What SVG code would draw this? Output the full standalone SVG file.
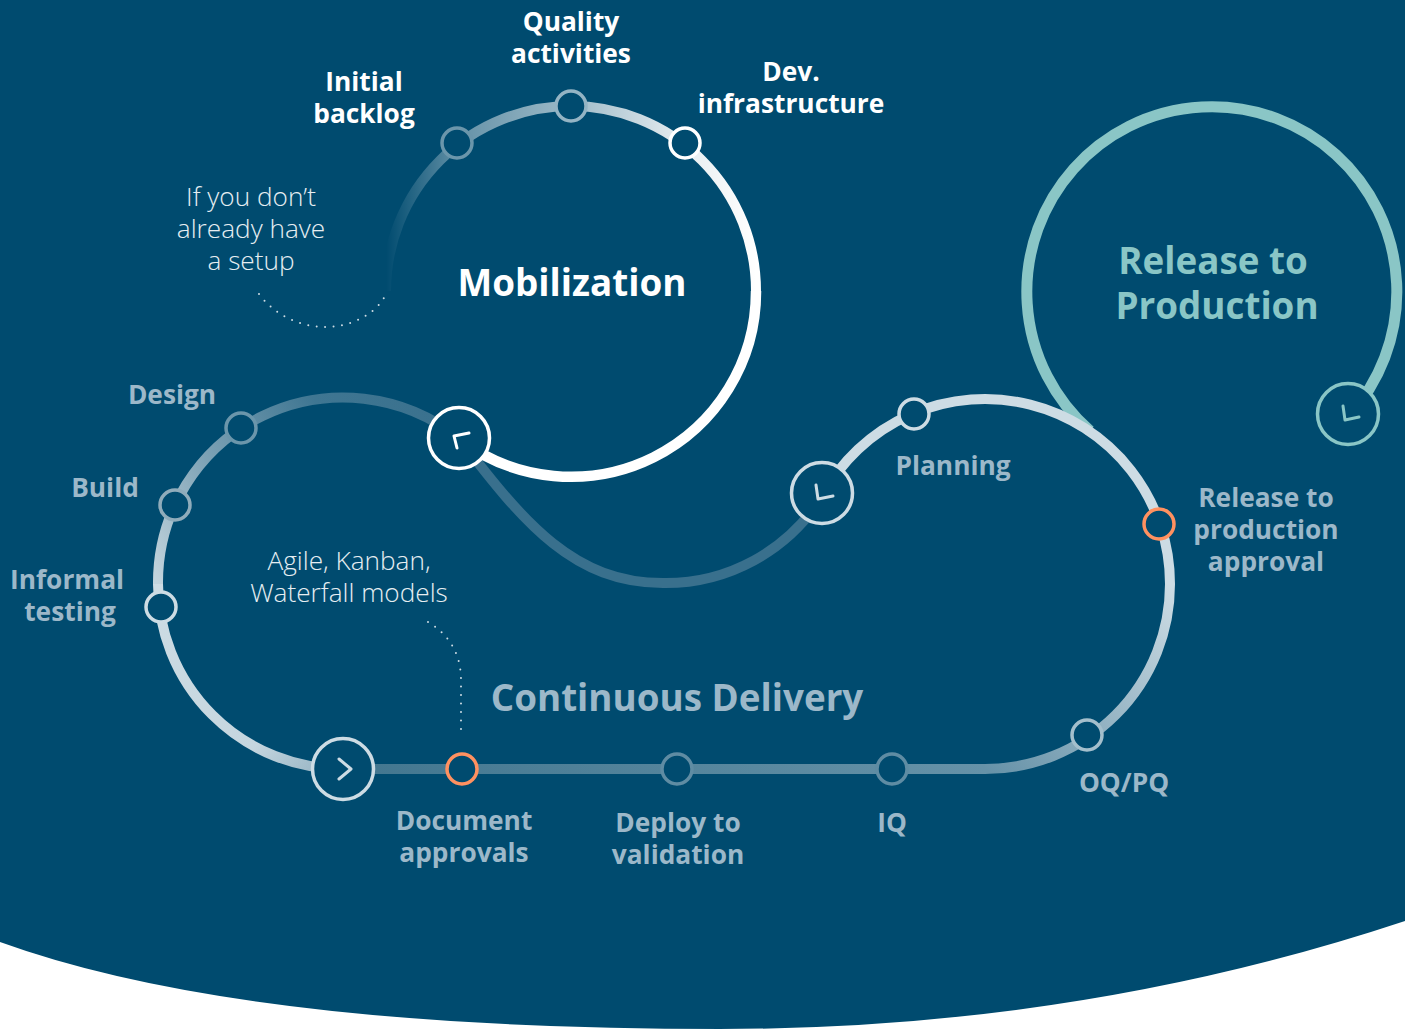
<svg xmlns="http://www.w3.org/2000/svg" width="1405" height="1029" viewBox="0 0 1405 1029">
<defs>
<linearGradient id="gMob" gradientUnits="userSpaceOnUse" x1="386" y1="291" x2="756" y2="291">
<stop offset="0" stop-color="#fff" stop-opacity="0"/>
<stop offset="0.2" stop-color="#fff" stop-opacity="0.4"/>
<stop offset="0.5" stop-color="#fff" stop-opacity="0.62"/>
<stop offset="0.8" stop-color="#fff" stop-opacity="0.9"/>
<stop offset="1" stop-color="#fff" stop-opacity="1"/>
</linearGradient>
<linearGradient id="gDel" gradientUnits="userSpaceOnUse" x1="459" y1="400" x2="158" y2="583">
<stop offset="0" stop-color="#39708d"/>
<stop offset="0.35" stop-color="#3f7692"/>
<stop offset="0.7" stop-color="#7da2b5"/>
<stop offset="1" stop-color="#c2d4dd"/>
</linearGradient>
<linearGradient id="gBot" gradientUnits="userSpaceOnUse" x1="158" y1="583" x2="343" y2="769">
<stop offset="0" stop-color="#cddce4"/>
<stop offset="0.7" stop-color="#c5d6df"/>
<stop offset="1" stop-color="#8fafc0"/>
</linearGradient>
<linearGradient id="gRight" gradientUnits="userSpaceOnUse" x1="1170" y1="584" x2="985" y2="769">
<stop offset="0" stop-color="#cddce4"/>
<stop offset="1" stop-color="#6692a8"/>
</linearGradient>
<linearGradient id="gLine" gradientUnits="userSpaceOnUse" x1="343" y1="769" x2="985" y2="769">
<stop offset="0" stop-color="#42768f"/>
<stop offset="1" stop-color="#6692a8"/>
</linearGradient>
</defs>
<style>
text{font-family:"Open Sans","Noto Sans","DejaVu Sans",sans-serif;text-anchor:middle}
.w{fill:#fff;font-weight:700;font-size:26.300px}
.m{fill:#9cb8c9;font-weight:700;font-size:26.300px}
.l{fill:#e6eef2;font-weight:300;font-size:26.200px}
.t{font-weight:700;font-size:36.800px}
.c{fill:none}
.n{fill:#004b6f;stroke-width:3.500}
.h{fill:#004b6f;stroke-width:3.500}
.ch{fill:none;stroke-width:3;stroke-linecap:round;stroke-linejoin:round}
.d{fill:none;stroke:#cddce4;stroke-width:2;stroke-linecap:round;stroke-dasharray:0 8.500}
</style>
<rect width="1405" height="1029" fill="#004b6f"/>
<path d="M0 942Q240 1029 720 1029Q1080 1029 1405 921V1029H0Z" fill="#fff"/>

<g id="connectors">
<path class="c" d="M1090 431A185 185 0 1 1 1348 417" stroke="#8ac6c6" stroke-width="11"/>
<path class="c" d="M386 291A185 185 0 0 1 756 291" stroke="url(#gMob)" stroke-width="10"/>
<path class="c" d="M459 438C525 525 575 583 663 583A185 185 0 0 0 822 496.500" stroke="#39708d" stroke-width="10"/>
<path class="c" d="M756 291A185 185 0 0 1 459 439" stroke="#fff" stroke-width="10.500"/>
<path class="c" d="M459 438.500A185 185 0 0 0 158 584" stroke="url(#gDel)" stroke-width="10"/>
<path class="c" d="M158 584A185 185 0 0 0 343 769" stroke="url(#gBot)" stroke-width="10"/>
<path class="c" d="M343 769H985" stroke="url(#gLine)" stroke-width="10"/>
<path class="c" d="M822 496.500A185 185 0 0 1 1170 584" stroke="#cddce4" stroke-width="10"/>
<path class="c" d="M1170 584A185 185 0 0 1 985 769" stroke="url(#gRight)" stroke-width="10"/>
<path class="d" d="M259 294C280 322 310 327 325 327C350 327 375 315 385 296"/>
<path class="d" d="M428 622C450 635 461 655 461 680V736"/>
</g>

<g id="hub-mobilization"><circle class="h" cx="459" cy="438" r="30.500" stroke="#fff"/><path class="ch" d="M469 433L454 436L457 448" stroke="#fff"/></g>
<g id="hub-planning"><circle class="h" cx="822" cy="493" r="30.500" stroke="#cddce4"/><path class="ch" d="M816 485L818 499L833 496" stroke="#cddce4"/></g>
<g id="hub-delivery"><circle class="h" cx="343" cy="769" r="30.500" stroke="#cddce4"/><path class="ch" d="M339 759L351 769L339 779" stroke="#cddce4"/></g>
<g id="hub-release"><circle class="h" cx="1348" cy="414" r="30.500" stroke="#8ac6c6"/><path class="ch" d="M1343 406L1345 420L1359 417" stroke="#8ac6c6"/></g>

<g id="node-initial-backlog"><circle class="n" cx="457" cy="143" r="15" stroke="#6b96ab"/><text class="w" x="364" y="91">Initial</text><text class="w" x="364" y="123">backlog</text></g>
<g id="node-quality"><circle class="n" cx="571" cy="106" r="15" stroke="#94b4c4"/><text class="w" x="571" y="31">Quality</text><text class="w" x="571" y="63">activities</text></g>
<g id="node-dev"><circle class="n" cx="685" cy="143" r="15" stroke="#fff"/><text class="w" x="791" y="81">Dev.</text><text class="w" x="791" y="113">infrastructure</text></g>
<g id="node-design"><circle class="n" cx="241" cy="428" r="15" stroke="#6b96ab"/><text class="m" x="172" y="404">Design</text></g>
<g id="node-build"><circle class="n" cx="175" cy="505" r="15" stroke="#8facbb"/><text class="m" x="105" y="497">Build</text></g>
<g id="node-informal"><circle class="n" cx="161" cy="607" r="15" stroke="#cddce4"/><text class="m" x="67" y="589">Informal</text><text class="m" x="70" y="621">testing</text></g>
<g id="node-document"><circle class="n" cx="462" cy="769" r="15" stroke="#ff9160"/><text class="m" x="464" y="830">Document</text><text class="m" x="464" y="862">approvals</text></g>
<g id="node-deploy"><circle class="n" cx="677" cy="769" r="15" stroke="#5f8ca3"/><text class="m" x="678" y="832">Deploy to</text><text class="m" x="678" y="864">validation</text></g>
<g id="node-iq"><circle class="n" cx="892" cy="769" r="15" stroke="#5f8ca3"/><text class="m" x="892" y="832">IQ</text></g>
<g id="node-oqpq"><circle class="n" cx="1087" cy="735" r="15" stroke="#a4bfcc"/><text class="m" x="1124" y="792">OQ/PQ</text></g>
<g id="node-approval"><circle class="n" cx="1159" cy="524" r="15" stroke="#ff9160"/><text class="m" x="1266" y="507">Release to</text><text class="m" x="1266" y="539">production</text><text class="m" x="1266" y="571">approval</text></g>
<g id="node-planning"><circle class="n" cx="914" cy="414" r="15" stroke="#cddce4"/><text class="m" x="953" y="475">Planning</text></g>

<g id="labels">
<text class="t" fill="#fff" x="572" y="296">Mobilization</text>
<text class="t" fill="#9cb8c9" x="677" y="711">Continuous Delivery</text>
<text class="t" fill="#8ac6c6" x="1213" y="274">Release to</text>
<text class="t" fill="#8ac6c6" x="1217" y="319">Production</text>
<text class="l" x="251" y="206">If you don’t</text>
<text class="l" x="251" y="238">already have</text>
<text class="l" x="251" y="270">a setup</text>
<text class="l" x="349" y="570">Agile, Kanban,</text>
<text class="l" x="349" y="602">Waterfall models</text>
</g>
</svg>
